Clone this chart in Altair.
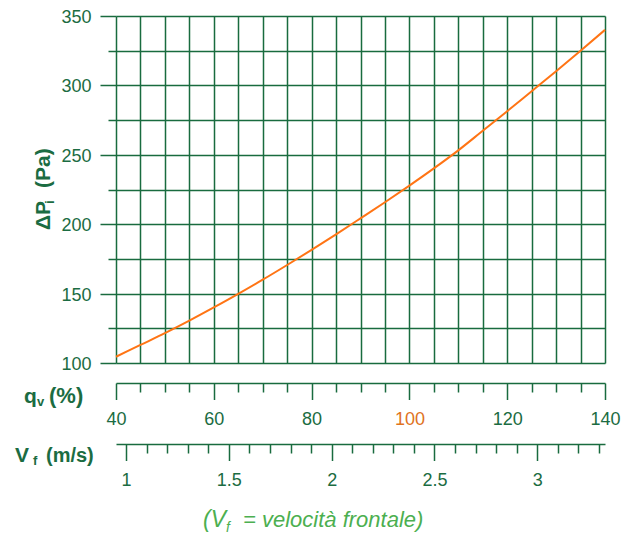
import altair as alt
import pandas as pd

# ---- data ----
qv = [40, 45, 50, 55, 60, 65, 70, 75, 80, 85, 90, 95, 100, 105, 110, 115, 120, 125, 130, 135, 140]
dp = [104.5, 113.0, 121.5, 130.5, 140.0, 149.8, 160.0, 170.6, 181.5, 192.7, 204.2, 215.8,
      227.8, 240.2, 253.2, 267.3, 281.4, 295.8, 310.2, 325.0, 340.0]
VF_AT_100 = 2.378  # m/s corresponding to qv = 100 %

dp_ticks = [100, 125, 150, 175, 200, 225, 250, 275, 300, 325, 350]
dp_labels = [100, 150, 200, 250, 300, 350]
qv_ticks = list(range(40, 145, 5))
qv_labels = [40, 60, 80, 100, 120, 140]
vf_ticks = [round(1 + 0.1 * i, 1) for i in range(24)]
vf_labels = [1, 1.5, 2, 2.5, 3]

FONT = "Liberation Sans"
GRID = "#196b3f"
TEXT = "#1b6c42"
ORANGE = "#ff7414"
ORANGE_TXT = "#e0731e"
SUB = "#4caf50"

df = pd.DataFrame({"qv": qv, "dp": dp})
df["vf"] = df["qv"] * VF_AT_100 / 100.0


def in_list(vals):
    return "indexof([" + ",".join(str(v) for v in vals) + "], datum.value) >= 0"


y_axis = alt.Axis(
    values=dp_ticks, title=None, domain=False,
    grid=True, gridColor=GRID, gridWidth=1.5, gridOpacity=1,
    ticks=True, tickColor=GRID, tickWidth=1.5,
    tickSize={"condition": {"test": in_list(dp_labels), "value": 16}, "value": 8},
    labelExpr=f"({in_list(dp_labels)}) ? datum.label : ''",
    labelFont=FONT, labelFontSize=18, labelColor=TEXT, labelPadding=9, labelOffset=1.5,
    labelFlush=False, labelOverlap=False,
)

x_axis = alt.Axis(
    values=qv_ticks, title=None, orient="bottom", offset=20,
    domain=True, domainColor=GRID, domainWidth=1.5,
    grid=True, gridColor=GRID, gridWidth=1.5, gridOpacity=1,
    ticks=True, tickColor=GRID, tickWidth=1.5,
    tickSize={"condition": {"test": in_list(qv_labels), "value": 16.5}, "value": 9},
    labelExpr=f"({in_list(qv_labels)}) ? datum.label : ''",
    labelColor={"condition": {"test": "datum.value === 100", "value": ORANGE_TXT}, "value": TEXT},
    labelFont=FONT, labelFontSize=18, labelPadding=11,
    labelFlush=False, labelOverlap=False,
)

vf_axis = alt.Axis(
    values=vf_ticks, title=None, orient="bottom", offset=81,
    domain=True, domainColor=GRID, domainWidth=1.5,
    grid=False,
    ticks=True, tickColor=GRID, tickWidth=1.5,
    tickSize={"condition": {"test": in_list(vf_labels), "value": 16.5}, "value": 9},
    labelExpr=f"({in_list(vf_labels)}) ? format(datum.value, '~g') : ''",
    labelFont=FONT, labelFontSize=18, labelColor=TEXT, labelPadding=11,
    labelFlush=False, labelOverlap=False,
)

y_scale = alt.Scale(domain=[100, 350], nice=False, zero=False)

line = alt.Chart(df).mark_line(color=ORANGE, strokeWidth=2, interpolate="monotone").encode(
    x=alt.X("qv:Q", scale=alt.Scale(domain=[40, 140], nice=False, zero=False), axis=x_axis),
    y=alt.Y("dp:Q", scale=y_scale, axis=y_axis),
)

vf_layer = alt.Chart(df).mark_line(opacity=0).encode(
    x=alt.X("vf:Q", scale=alt.Scale(domain=[0.4 * VF_AT_100, 1.4 * VF_AT_100], nice=False, zero=False),
            axis=vf_axis),
    y=alt.Y("dp:Q", scale=y_scale, axis=y_axis),
)


def label(text, x, y, size=20, weight="bold", style="normal", color=TEXT, angle=0, align="left"):
    return alt.Chart(pd.DataFrame({"t": [text]})).mark_text(
        x=x, y=y, align=align, baseline="alphabetic", angle=angle,
        font=FONT, fontSize=size, fontWeight=weight, fontStyle=style, color=color,
    ).encode(text="t:N")


texts = [
    # y title (rotated)
    label("ΔP", -66, 214, size=21, angle=270),
    label("i", -62, 188, size=13, angle=270),
    label("(Pa)", -66, 172, size=21, angle=270),
    # qv title
    label("q", -92, 387, size=21),
    label("v", -79, 390, size=13),
    label("(%)", -67, 387, size=22),
    # Vf title
    label("V", -101, 446, size=21),
    label("f", -83, 449, size=13),
    label("(m/s)", -70, 446),
    # subtitle
    label("(V", 87, 511, size=23, weight="normal", style="italic", color=SUB),
    label("f", 110, 516, size=14, weight="normal", style="italic", color=SUB),
    label("= velocità frontale)", 127, 511, size=22, weight="normal", style="italic", color=SUB),
]

chart = alt.layer(line, vf_layer, *texts).resolve_scale(x="independent").resolve_axis(x="independent").properties(
    width=489, height=347,
    autosize=alt.AutoSizeParams(type="none"),
    padding={"left": 108, "top": 8, "right": 20, "bottom": 172},
    background="white",
).configure_view(strokeOpacity=0)

chart.save("out.html", embed_options={"renderer": "svg", "actions": False})
